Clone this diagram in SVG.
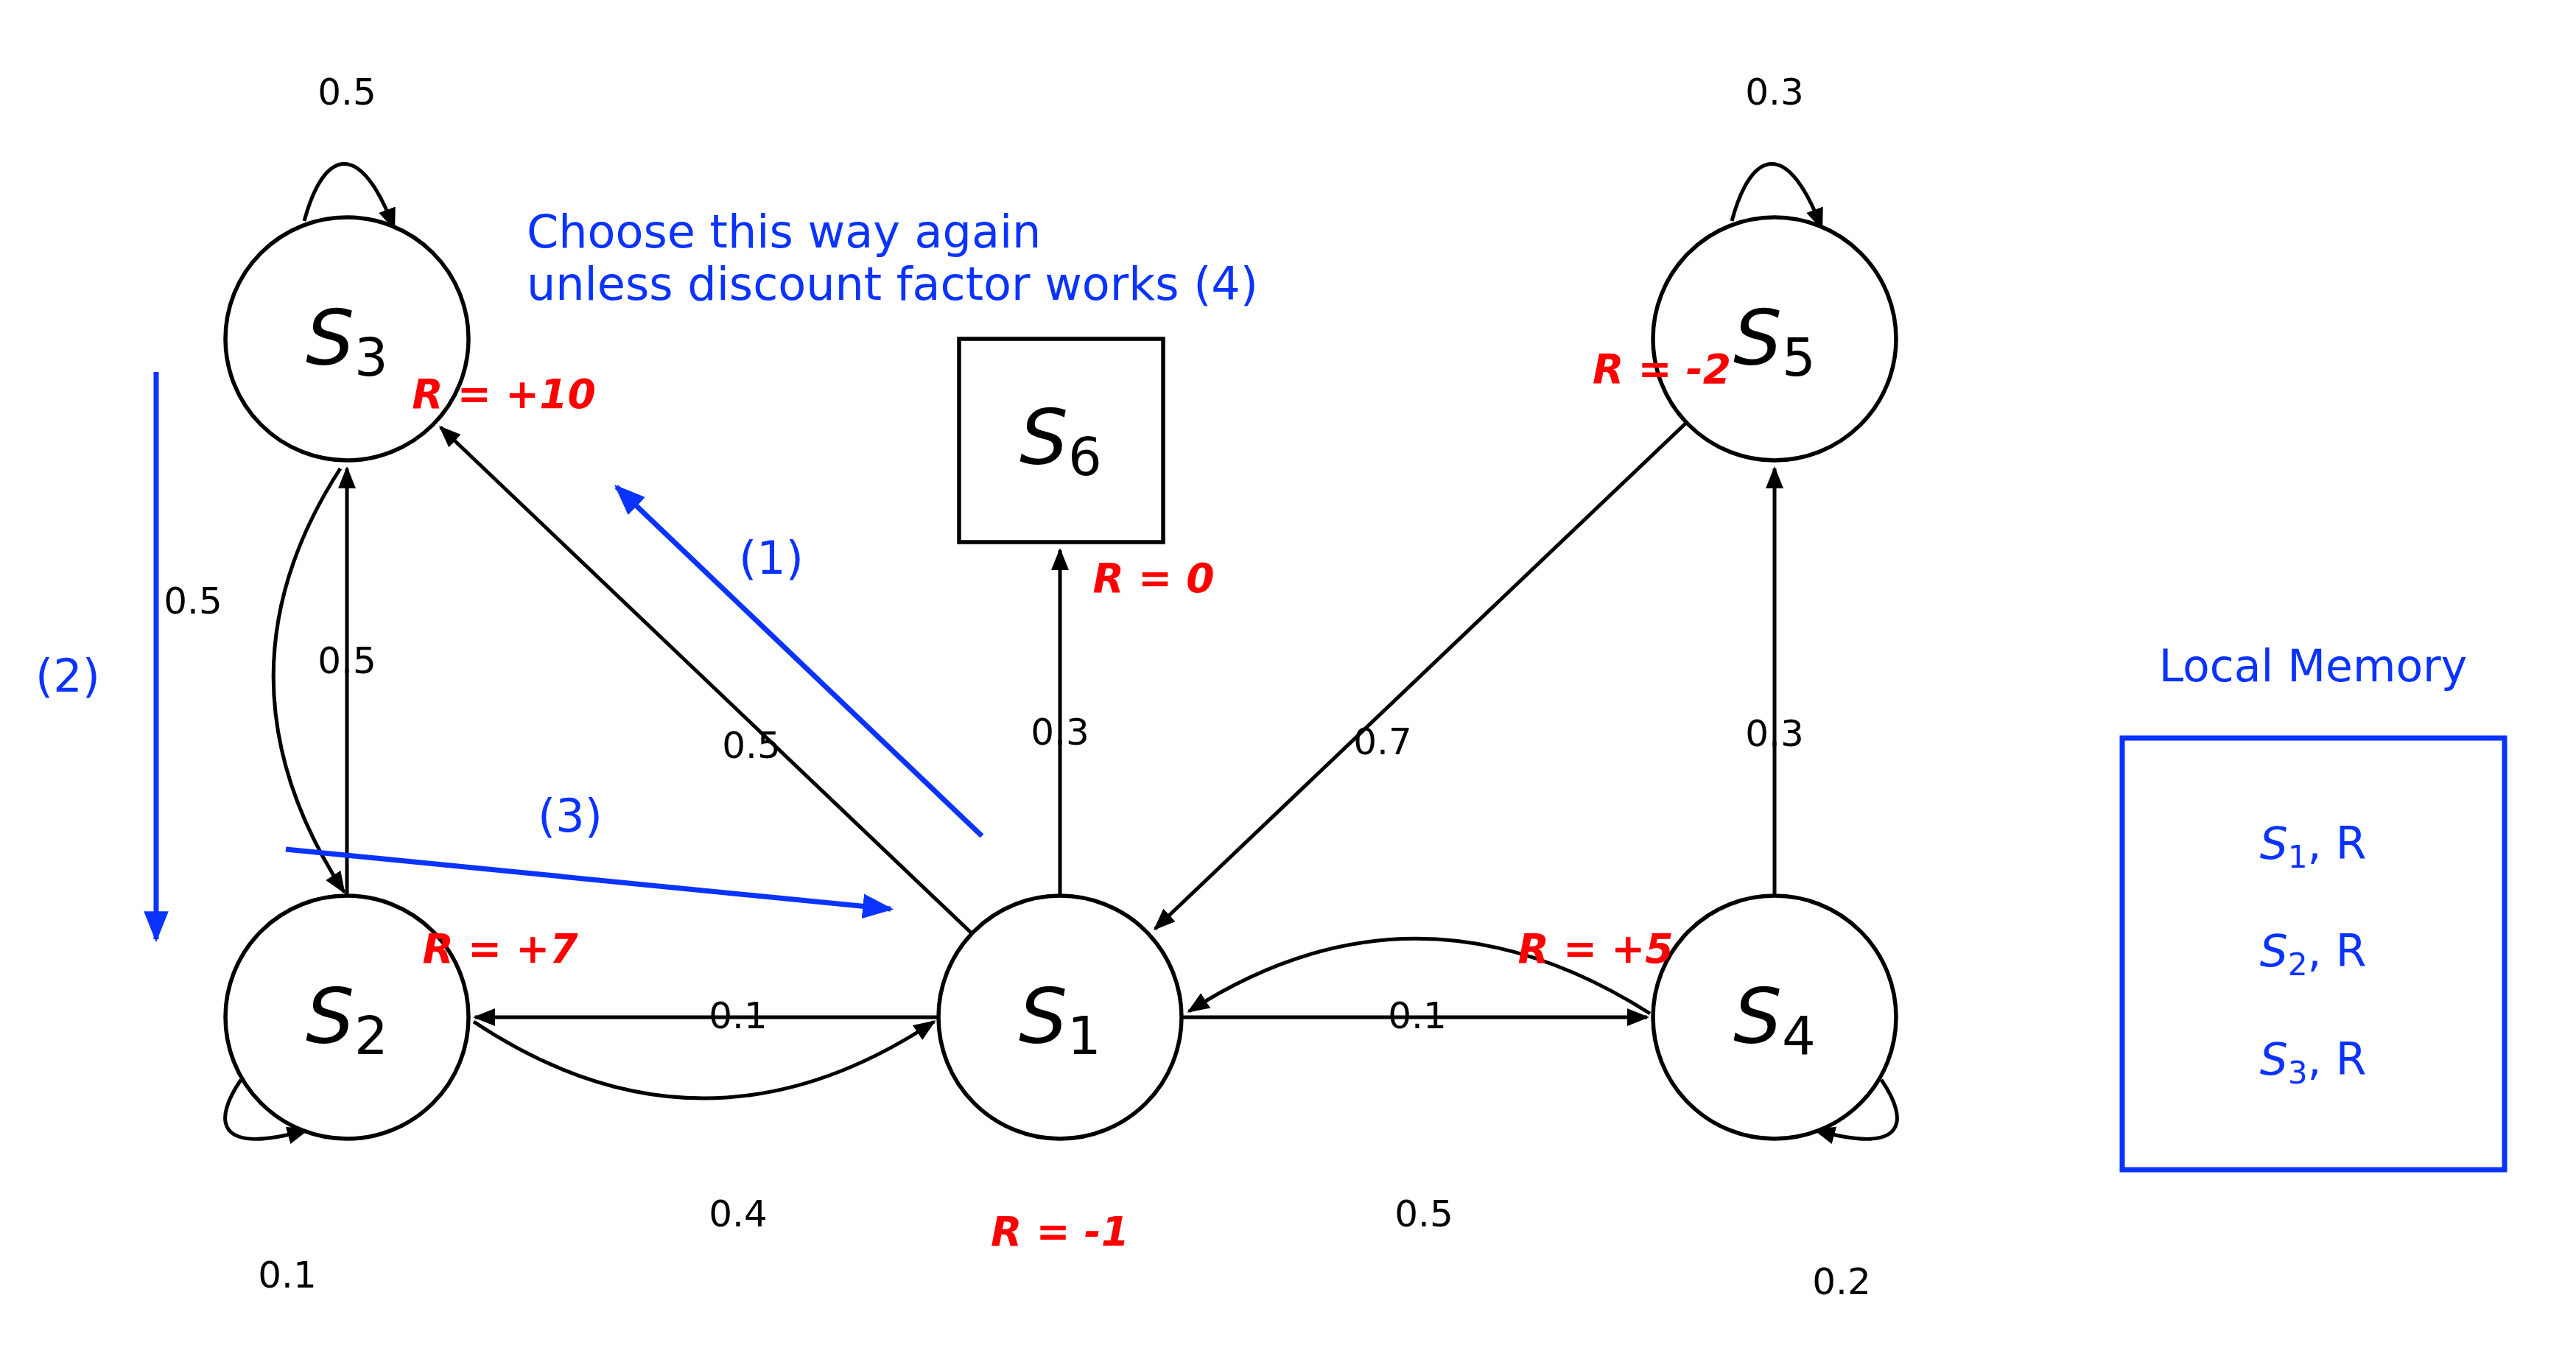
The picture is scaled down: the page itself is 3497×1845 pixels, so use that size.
<svg xmlns="http://www.w3.org/2000/svg" width="3497" height="1845" viewBox="0 0 3497 1845">
<style>
.n{fill:#fff;stroke:#000;stroke-width:5.5}
.e{fill:none;stroke:#000;stroke-width:5}
.b{fill:none;stroke:#0a33ff;stroke-width:7}
.nl{font-family:"DejaVu Sans",sans-serif;font-size:104px;fill:#000;text-anchor:middle}
.p{font-family:"DejaVu Sans",sans-serif;font-size:50px;fill:#000;text-anchor:middle}
.r{font-family:"DejaVu Sans",sans-serif;font-size:55px;font-weight:bold;font-style:italic;fill:#ff0000;text-anchor:middle}
.bt{font-family:"DejaVu Sans",sans-serif;font-size:62px;fill:#0a33ff}
.m{font-family:"DejaVu Sans",sans-serif;font-size:60px;fill:#0a33ff;text-anchor:middle}
</style>
<defs>
<marker id="a" viewBox="0 0 10 10" refX="9" refY="5" markerWidth="6" markerHeight="6" markerUnits="strokeWidth" orient="auto"><path d="M0,1 L10,5 L0,9 z" fill="#000"/></marker>
<marker id="ab" viewBox="0 0 10 10" refX="9" refY="5" markerWidth="6" markerHeight="6" markerUnits="strokeWidth" orient="auto"><path d="M0,1 L10,5 L0,9 z" fill="#0a33ff"/></marker>
</defs>
<rect width="3497" height="1845" fill="#fff"/>
<g id="connectors">
<path class="e" d="M413,300 C440,200 490,190 535,310" marker-end="url(#a)"/>
<path class="e" d="M2351,300 C2378,200 2428,190 2473,310" marker-end="url(#a)"/>
<path class="e" d="M462,636 Q278,921 467,1211" marker-end="url(#a)"/>
<path class="e" d="M471,1216 L471,636" marker-end="url(#a)"/>
<path class="e" d="M1318,1266 L598,580" marker-end="url(#a)"/>
<path class="e" d="M1439,1216 L1439,747" marker-end="url(#a)"/>
<path class="e" d="M2288,575 L1568,1261" marker-end="url(#a)"/>
<path class="e" d="M2409,1216 L2409,636" marker-end="url(#a)"/>
<path class="e" d="M1275,1381 L645,1381" marker-end="url(#a)"/>
<path class="e" d="M1606,1381 L2236,1381" marker-end="url(#a)"/>
<path class="e" d="M2240,1376 Q1922,1174 1614,1373" marker-end="url(#a)"/>
<path class="e" d="M643,1387 Q955,1595 1268,1387" marker-end="url(#a)"/>
<path class="e" d="M327,1466 C290,1520 290,1570 417,1534" marker-end="url(#a)"/>
<path class="e" d="M2554,1466 C2591,1520 2591,1570 2464,1534" marker-end="url(#a)"/>
<path class="b" d="M212,505 L212,1275" marker-end="url(#ab)"/>
<path class="b" d="M1333,1135 L837,661" marker-end="url(#ab)"/>
<path class="b" d="M388,1153 L1209,1234" marker-end="url(#ab)"/>
</g>
<g id="S3"><circle class="n" cx="471" cy="460" r="165"/><text class="nl" x="471" y="495"><tspan font-style="italic">S</tspan><tspan font-size="72" dy="15">3</tspan></text></g>
<g id="S2"><circle class="n" cx="471" cy="1381" r="165"/><text class="nl" x="471" y="1416"><tspan font-style="italic">S</tspan><tspan font-size="72" dy="15">2</tspan></text></g>
<g id="S1"><circle class="n" cx="1439" cy="1381" r="165"/><text class="nl" x="1439" y="1416"><tspan font-style="italic">S</tspan><tspan font-size="72" dy="15">1</tspan></text></g>
<g id="S4"><circle class="n" cx="2409" cy="1381" r="165"/><text class="nl" x="2409" y="1416"><tspan font-style="italic">S</tspan><tspan font-size="72" dy="15">4</tspan></text></g>
<g id="S5"><circle class="n" cx="2409" cy="460" r="165"/><text class="nl" x="2409" y="495"><tspan font-style="italic">S</tspan><tspan font-size="72" dy="15">5</tspan></text></g>
<g id="S6"><rect class="n" x="1302" y="460" width="277" height="276"/><text class="nl" x="1440" y="630"><tspan font-style="italic">S</tspan><tspan font-size="72" dy="15">6</tspan></text></g>
<g id="memory"><text class="m" x="3140" y="925">Local Memory</text><rect x="2881" y="1002" width="519" height="586" fill="none" stroke="#0a33ff" stroke-width="7"/>
<text class="m" x="3140" y="1166"><tspan font-style="italic">S</tspan><tspan font-size="42" dy="12">1</tspan><tspan dy="-12">, R</tspan></text>
<text class="m" x="3140" y="1312"><tspan font-style="italic">S</tspan><tspan font-size="42" dy="12">2</tspan><tspan dy="-12">, R</tspan></text>
<text class="m" x="3140" y="1459"><tspan font-style="italic">S</tspan><tspan font-size="42" dy="12">3</tspan><tspan dy="-12">, R</tspan></text></g>
<g id="labels">
<text class="p" x="471" y="142">0.5</text>
<text class="p" x="2409" y="142">0.3</text>
<text class="p" x="262" y="833">0.5</text>
<text class="p" x="471" y="914">0.5</text>
<text class="p" x="1020" y="1029">0.5</text>
<text class="p" x="1439" y="1011">0.3</text>
<text class="p" x="1877" y="1024">0.7</text>
<text class="p" x="2409" y="1013">0.3</text>
<text class="p" x="1002" y="1396">0.1</text>
<text class="p" x="1924" y="1396">0.1</text>
<text class="p" x="1002" y="1665">0.4</text>
<text class="p" x="1933" y="1665">0.5</text>
<text class="p" x="390" y="1748">0.1</text>
<text class="p" x="2500" y="1757">0.2</text>
<text class="r" x="684" y="554">R = +10</text>
<text class="r" x="679" y="1307">R = +7</text>
<text class="r" x="2166" y="1307">R = +5</text>
<text class="r" x="2256" y="520">R = -2</text>
<text class="r" x="1566" y="804">R = 0</text>
<text class="r" x="1439" y="1691">R = -1</text>
<text class="bt" x="715" y="336">Choose this way again</text>
<text class="bt" x="715" y="407">unless discount factor works (4)</text>
<text class="bt" x="1047" y="779" text-anchor="middle">(1)</text>
<text class="bt" x="92" y="939" text-anchor="middle">(2)</text>
<text class="bt" x="774" y="1129" text-anchor="middle">(3)</text>
</g>
</svg>
